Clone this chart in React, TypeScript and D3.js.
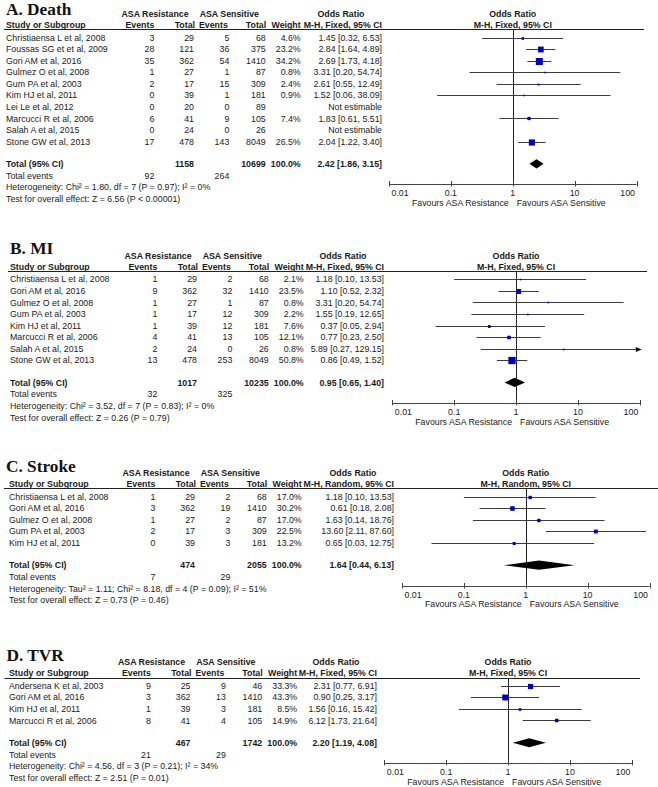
import React from 'react';
import * as d3 from 'd3';

// ---------- DATA ----------
const axisTicks = [0.01, 0.1, 1, 10, 100];
const axisTickLabels = ['0.01', '0.1', '1', '10', '100'];

// A. Death
const deathStudies = ['Christiaensa L et al, 2008', 'Foussas SG et et al, 2009', 'Gori AM et al, 2016', 'Gulmez O et al, 2008', 'Gum PA et al, 2003', 'Kim HJ et al, 2011', 'Lei Le et al, 2012', 'Marcucci R et al, 2006', 'Salah A et al, 2015', 'Stone GW et al, 2013'];
const deathResEvents = [3, 28, 35, 1, 2, 0, 0, 6, 0, 17];
const deathResTotal = [29, 121, 362, 27, 17, 39, 20, 41, 24, 478];
const deathSenEvents = [5, 36, 54, 1, 15, 1, 0, 9, 0, 143];
const deathSenTotal = [68, 375, 1410, 87, 309, 181, 89, 105, 26, 8049];
const deathWeight = [4.6, 23.2, 34.2, 0.8, 2.4, 0.9, null, 7.4, null, 26.5];
const deathOR = [1.45, 2.84, 2.69, 3.31, 2.61, 1.52, null, 1.83, null, 2.04];
const deathLo = [0.32, 1.64, 1.73, 0.20, 0.55, 0.06, null, 0.61, null, 1.22];
const deathHi = [6.53, 4.89, 4.18, 54.74, 12.49, 38.09, null, 5.51, null, 3.40];
const deathTotals = [1158, 10699];
const deathTotalEvents = [92, 264];
const deathPooled = [2.42, 1.86, 3.15];
const deathHet = 'Heterogeneity: Chi² = 1.80, df = 7 (P = 0.97); I² = 0%';
const deathTest = 'Test for overall effect: Z = 6.56 (P < 0.00001)';

// B. MI
const miStudies = ['Christiaensa L et al, 2008', 'Gori AM et al, 2016', 'Gulmez O et al, 2008', 'Gum PA et al, 2003', 'Kim HJ et al, 2011', 'Marcucci R et al, 2006', 'Salah A et al, 2015', 'Stone GW et al, 2013'];
const miResEvents = [1, 9, 1, 1, 1, 4, 2, 13];
const miResTotal = [29, 362, 27, 17, 39, 41, 24, 478];
const miSenEvents = [2, 32, 1, 12, 12, 13, 0, 253];
const miSenTotal = [68, 1410, 87, 309, 181, 105, 26, 8049];
const miWeight = [2.1, 23.5, 0.8, 2.2, 7.6, 12.1, 0.8, 50.8];
const miOR = [1.18, 1.10, 3.31, 1.55, 0.37, 0.77, 5.89, 0.86];
const miLo = [0.10, 0.52, 0.20, 0.19, 0.05, 0.23, 0.27, 0.49];
const miHi = [13.53, 2.32, 54.74, 12.65, 2.94, 2.50, 129.15, 1.52];
const miTotals = [1017, 10235];
const miTotalEvents = [32, 325];
const miPooled = [0.95, 0.65, 1.40];
const miHet = 'Heterogeneity: Chi² = 3.52, df = 7 (P = 0.83); I² = 0%';
const miTest = 'Test for overall effect: Z = 0.26 (P = 0.79)';

// C. Stroke
const strokeStudies = ['Christiaensa L et al, 2008', 'Gori AM et al, 2016', 'Gulmez O et al, 2008', 'Gum PA et al, 2003', 'Kim HJ et al, 2011'];
const strokeResEvents = [1, 3, 1, 2, 0];
const strokeResTotal = [29, 362, 27, 17, 39];
const strokeSenEvents = [2, 19, 2, 3, 3];
const strokeSenTotal = [68, 1410, 87, 309, 181];
const strokeWeight = [17.0, 30.2, 17.0, 22.5, 13.2];
const strokeOR = [1.18, 0.61, 1.63, 13.60, 0.65];
const strokeLo = [0.10, 0.18, 0.14, 2.11, 0.03];
const strokeHi = [13.53, 2.08, 18.76, 87.60, 12.75];
const strokeTotals = [474, 2055];
const strokeTotalEvents = [7, 29];
const strokePooled = [1.64, 0.44, 6.13];
const strokeHet = 'Heterogeneity: Tau² = 1.11; Chi² = 8.18, df = 4 (P = 0.09); I² = 51%';
const strokeTest = 'Test for overall effect: Z = 0.73 (P = 0.46)';

// D. TVR
const tvrStudies = ['Andersena K et al, 2003', 'Gori AM et al, 2016', 'Kim HJ et al, 2011', 'Marcucci R et al, 2006'];
const tvrResEvents = [9, 3, 1, 8];
const tvrResTotal = [25, 362, 39, 41];
const tvrSenEvents = [9, 13, 3, 4];
const tvrSenTotal = [46, 1410, 181, 105];
const tvrWeight = [33.3, 43.3, 8.5, 14.9];
const tvrOR = [2.31, 0.90, 1.56, 6.12];
const tvrLo = [0.77, 0.25, 0.16, 1.73];
const tvrHi = [6.91, 3.17, 15.42, 21.64];
const tvrTotals = [467, 1742];
const tvrTotalEvents = [21, 29];
const tvrPooled = [2.20, 1.19, 4.08];
const tvrHet = 'Heterogeneity: Chi² = 4.56, df = 3 (P = 0.21); I² = 34%';
const tvrTest = 'Test for overall effect: Z = 2.51 (P = 0.01)';

// ---------- LAYOUT ----------
const panels = [
  { title: 'A. Death', method: 'M-H, Fixed, 95% CI', hl: 29.3, titleX: 6, nameX: 6, shift: 0, orRight: 382, p0: 389, lineEnd: 644, k: 1.2,
    studies: deathStudies, re: deathResEvents, rt: deathResTotal, se: deathSenEvents, st: deathSenTotal, w: deathWeight, or: deathOR, lo: deathLo, hi: deathHi,
    totals: deathTotals, tev: deathTotalEvents, pooled: deathPooled, het: deathHet, test: deathTest },
  { title: 'B. MI', method: 'M-H, Fixed, 95% CI', hl: 271, titleX: 10, nameX: 10, shift: 3, orRight: 384, p0: 392.3, lineEnd: 647, k: 1.02,
    studies: miStudies, re: miResEvents, rt: miResTotal, se: miSenEvents, st: miSenTotal, w: miWeight, or: miOR, lo: miLo, hi: miHi,
    totals: miTotals, tev: miTotalEvents, pooled: miPooled, het: miHet, test: miTest },
  { title: 'C. Stroke', method: 'M-H, Random, 95% CI', hl: 488.4, titleX: 6, nameX: 9, shift: 1, orRight: 394, p0: 402, lineEnd: 658, k: 0.82,
    studies: strokeStudies, re: strokeResEvents, rt: strokeResTotal, se: strokeSenEvents, st: strokeSenTotal, w: strokeWeight, or: strokeOR, lo: strokeLo, hi: strokeHi,
    totals: strokeTotals, tev: strokeTotalEvents, pooled: strokePooled, het: strokeHet, test: strokeTest },
  { title: 'D. TVR', method: 'M-H, Fixed, 95% CI', hl: 677.5, titleX: 6.5, nameX: 9, shift: -3.5, orRight: 377, p0: 384.3, lineEnd: 640, k: 0.9,
    studies: tvrStudies, re: tvrResEvents, rt: tvrResTotal, se: tvrSenEvents, st: tvrSenTotal, w: tvrWeight, or: tvrOR, lo: tvrLo, hi: tvrHi,
    totals: tvrTotals, tev: tvrTotalEvents, pooled: tvrPooled, het: tvrHet, test: tvrTest },
];

const FONT = "'Liberation Sans', Arial, Helvetica, sans-serif";
const FS = 8.8;
const BL = 3.1;
const TXT = '#1a1a1a';
const crisp = (v: number) => Math.round(v) + 0.5;
const f2 = (v: number) => v.toFixed(2);

function Panel({ cfg }: { cfg: any }) {
  const x = d3.scaleLog().domain([0.01, 100]).range([cfg.p0, cfg.p0 + 247.5]);
  const rowY = (i: number) => cfg.hl + 8.3 + 11.55 * i;
  const n = cfg.studies.length;
  const totalY = rowY(n - 1) + 22.3;
  const axisY = totalY + 20.5;
  const cols = [154.3, 194, 229.3, 265.7, 300.7].map((c) => c + cfg.shift);
  const x1 = x(1);
  const hdr1 = cfg.hl - 15.3 + BL;
  const hdr2 = cfg.hl - 4.3 + BL;
  const bold = { fontWeight: 700 } as any;
  const [pOR, pLo, pHi] = cfg.pooled;
  const dh = 4.6;
  const diamond = [[x(pLo), totalY], [x(pOR), totalY - dh], [x(pHi), totalY], [x(pOR), totalY + dh]];
  const titleY = Math.max(cfg.hl - 16.6, 15.4);
  return (
    <g fontFamily={FONT} fontSize={FS} fill={TXT}>
      <text x={cfg.titleX} y={titleY} fontFamily="'Liberation Serif', 'Times New Roman', serif" fontWeight={700} fontSize={17.3} fill="#111">{cfg.title}</text>
      {/* group headers */}
      <text x={cols[0] + 0.7} y={hdr1} textAnchor="middle" {...bold}>ASA Resistance</text>
      <text x={cols[2]} y={hdr1} textAnchor="middle" {...bold}>ASA Sensitive</text>
      <text x={cfg.orRight - 41} y={hdr1} textAnchor="middle" {...bold}>Odds Ratio</text>
      <text x={x1} y={hdr1} textAnchor="middle" {...bold}>Odds Ratio</text>
      {/* column headers */}
      <text x={cfg.nameX} y={hdr2} {...bold}>Study or Subgroup</text>
      <text x={cols[0]} y={hdr2} textAnchor="end" {...bold}>Events</text>
      <text x={cols[1] + 1} y={hdr2} textAnchor="end" {...bold}>Total</text>
      <text x={cols[2] - 1.5} y={hdr2} textAnchor="end" {...bold}>Events</text>
      <text x={cols[3] + 0.5} y={hdr2} textAnchor="end" {...bold}>Total</text>
      <text x={cols[4]} y={hdr2} textAnchor="end" {...bold}>Weight</text>
      <text x={cfg.orRight} y={hdr2} textAnchor="end" {...bold}>{cfg.method}</text>
      <text x={x1} y={hdr2} textAnchor="middle" {...bold}>{cfg.method}</text>
      <line x1={cfg.titleX - 2} x2={cfg.lineEnd} y1={crisp(cfg.hl)} y2={crisp(cfg.hl)} stroke="#222" strokeWidth={1} />
      {/* null line */}
      <line x1={crisp(x1)} x2={crisp(x1)} y1={crisp(cfg.hl)} y2={axisY} stroke="#222" strokeWidth={1} />
      {/* rows */}
      {cfg.studies.map((s: string, i: number) => {
        const y = rowY(i);
        const has = cfg.or[i] != null;
        const side = has ? Math.max(1.6, cfg.k * Math.sqrt(cfg.w[i])) : 0;
        const hiClip = has ? Math.min(cfg.hi[i], 100) : 0;
        return (
          <g key={s}>
            <text x={cfg.nameX} y={y + BL}>{s}</text>
            <text x={cols[0]} y={y + BL} textAnchor="end">{cfg.re[i]}</text>
            <text x={cols[1]} y={y + BL} textAnchor="end">{cfg.rt[i]}</text>
            <text x={cols[2]} y={y + BL} textAnchor="end">{cfg.se[i]}</text>
            <text x={cols[3]} y={y + BL} textAnchor="end">{cfg.st[i]}</text>
            {has && <text x={cols[4]} y={y + BL} textAnchor="end">{cfg.w[i].toFixed(1) + '%'}</text>}
            <text x={cfg.orRight} y={y + BL} textAnchor="end">
              {has ? `${f2(cfg.or[i])} [${f2(cfg.lo[i])}, ${f2(cfg.hi[i])}]` : 'Not estimable'}
            </text>
            {has && (
              <g>
                <line x1={x(cfg.lo[i])} x2={x(hiClip)} y1={crisp(y)} y2={crisp(y)} stroke="#3c3c3c" strokeWidth={1} />
                {cfg.hi[i] > 100 && (
                  <path d={`M${x(100) + 2},${crisp(y)} L${x(100) - 4},${crisp(y) - 2.5} L${x(100) - 4},${crisp(y) + 2.5} Z`} fill="#111" />
                )}
                <rect x={x(cfg.or[i]) - side / 2} y={crisp(y) - side / 2} width={side} height={side} fill="#0000c0" />
              </g>
            )}
          </g>
        );
      })}
      {/* total */}
      <text x={cfg.nameX} y={totalY + BL} {...bold}>Total (95% CI)</text>
      <text x={cols[1]} y={totalY + BL} textAnchor="end" {...bold}>{cfg.totals[0]}</text>
      <text x={cols[3]} y={totalY + BL} textAnchor="end" {...bold}>{cfg.totals[1]}</text>
      <text x={cols[4]} y={totalY + BL} textAnchor="end" {...bold}>100.0%</text>
      <text x={cfg.orRight} y={totalY + BL} textAnchor="end" {...bold}>{`${f2(pOR)} [${f2(pLo)}, ${f2(pHi)}]`}</text>
      <polygon points={diamond.map((p) => p.join(',')).join(' ')} fill="#000" />
      <text x={cfg.nameX} y={totalY + 11.7 + BL}>Total events</text>
      <text x={cols[0]} y={totalY + 11.7 + BL} textAnchor="end">{cfg.tev[0]}</text>
      <text x={cols[2]} y={totalY + 11.7 + BL} textAnchor="end">{cfg.tev[1]}</text>
      <text x={cfg.nameX} y={totalY + 23.3 + BL}>{cfg.het}</text>
      <text x={cfg.nameX} y={totalY + 35 + BL}>{cfg.test}</text>
      {/* axis */}
      <line x1={x(0.01)} x2={x(100)} y1={crisp(axisY)} y2={crisp(axisY)} stroke="#444" strokeWidth={1} />
      {axisTicks.map((t, j) => (
        <g key={t}>
          <line x1={crisp(x(t))} x2={crisp(x(t))} y1={crisp(axisY) - 3.5} y2={crisp(axisY) + 2} stroke="#444" strokeWidth={1} />
          <text
            x={j === 0 ? x(t) + 2.5 : j === axisTicks.length - 1 ? x(t) - 1.5 : x(t)}
            y={axisY + 9 + BL}
            textAnchor={j === 0 ? 'start' : j === axisTicks.length - 1 ? 'end' : 'middle'}
          >{axisTickLabels[j]}</text>
        </g>
      ))}
      <text x={x1 - 4} y={axisY + 18.5 + BL} textAnchor="end">Favours ASA Resistance</text>
      <text x={x1 + 4} y={axisY + 18.5 + BL}>Favours ASA Sensitive</text>
    </g>
  );
}

export default function App() {
  return (
    <svg width={658} height={787} viewBox="0 0 658 787" style={{ position: 'absolute', left: 0, top: 0, background: '#fff' }}>
      <rect x={0} y={0} width={658} height={787} fill="#fff" />
      {panels.map((p) => (
        <Panel key={p.title} cfg={p} />
      ))}
    </svg>
  );
}
